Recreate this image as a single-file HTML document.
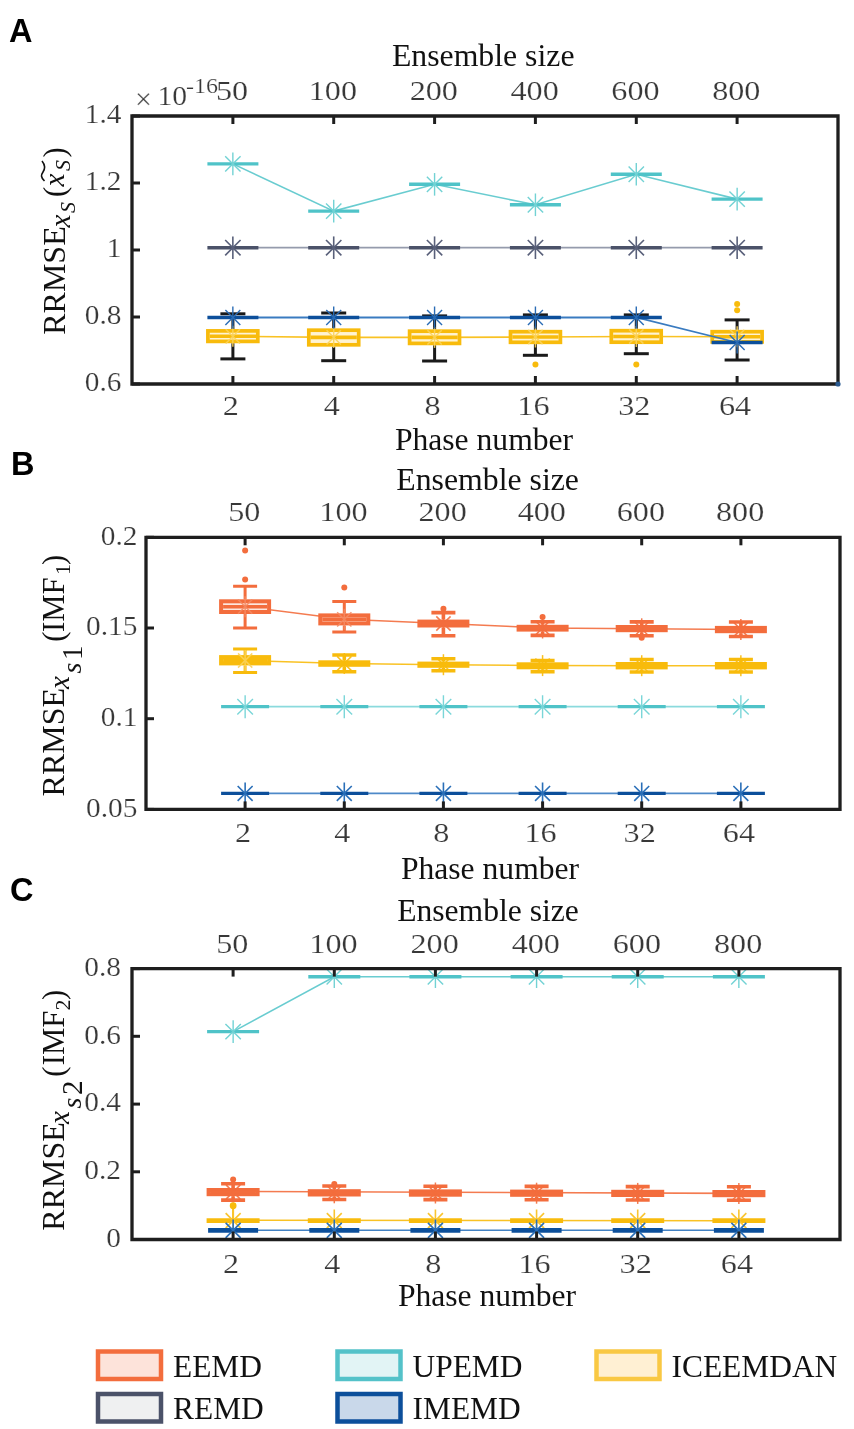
<!DOCTYPE html>
<html><head><meta charset="utf-8"><title>Figure</title>
<style>html,body{margin:0;padding:0;background:#fff;}svg{display:block;filter:blur(0.35px);}</style></head>
<body><svg width="854" height="1429" viewBox="0 0 854 1429">
<rect width="854" height="1429" fill="#fff"/>
<text transform="translate(9.0,41.5) scale(1.0,1)" text-anchor="start" font-family="Liberation Sans" font-size="32.5" font-weight="bold" fill="#000" >A</text>
<text transform="translate(483.2,66.3) scale(1.035,1)" text-anchor="middle" font-family="Liberation Serif" font-size="30.7" font-weight="normal" fill="#111" >Ensemble size</text>
<text transform="translate(484.0,449.5) scale(1.03,1)" text-anchor="middle" font-family="Liberation Serif" font-size="30.7" font-weight="normal" fill="#111" >Phase number</text>
<clipPath id="cA"><rect x="132" y="116" width="706" height="268"/></clipPath><g clip-path="url(#cA)">
<polyline points="232.9,163.9 333.7,211.1 434.6,184.3 535.4,204.8 636.3,174.3 737.1,199.1" fill="none" stroke="#4fc3c8" stroke-width="1.6" opacity="0.85"/>
<polyline points="232.9,247.7 333.7,247.7 434.6,247.7 535.4,247.7 636.3,247.7 737.1,247.7" fill="none" stroke="#8990a3" stroke-width="1.8" opacity="0.9"/>
<polyline points="232.9,336.3 333.7,337.4 434.6,337.4 535.4,337.0 636.3,336.5 737.1,336.8" fill="none" stroke="#f8bb0c" stroke-width="1.6" opacity="0.9"/>
<line x1="232.9" y1="329.0" x2="232.9" y2="313.8" stroke="#1a1a1a" stroke-width="3" />
<line x1="232.9" y1="343.2" x2="232.9" y2="358.9" stroke="#1a1a1a" stroke-width="3" />
<line x1="220.4" y1="313.8" x2="245.4" y2="313.8" stroke="#1a1a1a" stroke-width="3" />
<line x1="220.4" y1="358.9" x2="245.4" y2="358.9" stroke="#1a1a1a" stroke-width="3" />
<rect x="207.9" y="330.9" width="49.9" height="10.5" fill="#fff3d2" stroke="#f8bb0c" stroke-width="3.7"/>
<line x1="209.8" y1="336.3" x2="256.0" y2="336.3" stroke="#f8bb0c" stroke-width="3.6" />
<g stroke="#fbd35a" stroke-width="1.5" opacity="0.9"><line x1="232.85714285714286" y1="325.8" x2="232.85714285714286" y2="346.8"/><line x1="225.71714285714285" y1="329.16" x2="239.99714285714288" y2="343.44"/><line x1="225.71714285714285" y1="343.44" x2="239.99714285714288" y2="329.16"/></g>
<line x1="333.7" y1="328.4" x2="333.7" y2="313.0" stroke="#1a1a1a" stroke-width="3" />
<line x1="333.7" y1="346.7" x2="333.7" y2="360.7" stroke="#1a1a1a" stroke-width="3" />
<line x1="321.2" y1="313.0" x2="346.2" y2="313.0" stroke="#1a1a1a" stroke-width="3" />
<line x1="321.2" y1="360.7" x2="346.2" y2="360.7" stroke="#1a1a1a" stroke-width="3" />
<rect x="308.8" y="330.2" width="49.9" height="14.6" fill="#fff3d2" stroke="#f8bb0c" stroke-width="3.7"/>
<line x1="310.6" y1="337.4" x2="356.8" y2="337.4" stroke="#f8bb0c" stroke-width="3.6" />
<g stroke="#fbd35a" stroke-width="1.5" opacity="0.9"><line x1="333.7142857142857" y1="326.9" x2="333.7142857142857" y2="347.9"/><line x1="326.57428571428574" y1="330.26" x2="340.8542857142857" y2="344.53999999999996"/><line x1="326.57428571428574" y1="344.53999999999996" x2="340.8542857142857" y2="330.26"/></g>
<line x1="434.6" y1="329.4" x2="434.6" y2="315.9" stroke="#1a1a1a" stroke-width="3" />
<line x1="434.6" y1="345.3" x2="434.6" y2="361.0" stroke="#1a1a1a" stroke-width="3" />
<line x1="422.1" y1="315.9" x2="447.1" y2="315.9" stroke="#1a1a1a" stroke-width="3" />
<line x1="422.1" y1="361.0" x2="447.1" y2="361.0" stroke="#1a1a1a" stroke-width="3" />
<rect x="409.6" y="331.2" width="49.9" height="12.2" fill="#fff3d2" stroke="#f8bb0c" stroke-width="3.7"/>
<line x1="411.5" y1="337.4" x2="457.7" y2="337.4" stroke="#f8bb0c" stroke-width="3.6" />
<g stroke="#fbd35a" stroke-width="1.5" opacity="0.9"><line x1="434.57142857142856" y1="326.9" x2="434.57142857142856" y2="347.9"/><line x1="427.43142857142857" y1="330.26" x2="441.71142857142854" y2="344.53999999999996"/><line x1="427.43142857142857" y1="344.53999999999996" x2="441.71142857142854" y2="330.26"/></g>
<line x1="535.4" y1="329.8" x2="535.4" y2="314.9" stroke="#1a1a1a" stroke-width="3" />
<line x1="535.4" y1="344.1" x2="535.4" y2="355.3" stroke="#1a1a1a" stroke-width="3" />
<line x1="522.9" y1="314.9" x2="547.9" y2="314.9" stroke="#1a1a1a" stroke-width="3" />
<line x1="522.9" y1="355.3" x2="547.9" y2="355.3" stroke="#1a1a1a" stroke-width="3" />
<rect x="510.5" y="331.7" width="49.9" height="10.6" fill="#fff3d2" stroke="#f8bb0c" stroke-width="3.7"/>
<line x1="512.3" y1="337.0" x2="558.5" y2="337.0" stroke="#f8bb0c" stroke-width="3.6" />
<circle cx="535.4285714285714" cy="364.6" r="3" fill="#f8bb0c"/>
<g stroke="#fbd35a" stroke-width="1.5" opacity="0.9"><line x1="535.4285714285714" y1="326.5" x2="535.4285714285714" y2="347.5"/><line x1="528.2885714285715" y1="329.86" x2="542.5685714285714" y2="344.14"/><line x1="528.2885714285715" y1="344.14" x2="542.5685714285714" y2="329.86"/></g>
<line x1="636.3" y1="328.8" x2="636.3" y2="314.9" stroke="#1a1a1a" stroke-width="3" />
<line x1="636.3" y1="344.0" x2="636.3" y2="353.7" stroke="#1a1a1a" stroke-width="3" />
<line x1="623.8" y1="314.9" x2="648.8" y2="314.9" stroke="#1a1a1a" stroke-width="3" />
<line x1="623.8" y1="353.7" x2="648.8" y2="353.7" stroke="#1a1a1a" stroke-width="3" />
<rect x="611.3" y="330.7" width="49.9" height="11.5" fill="#fff3d2" stroke="#f8bb0c" stroke-width="3.7"/>
<line x1="613.2" y1="336.5" x2="659.4" y2="336.5" stroke="#f8bb0c" stroke-width="3.6" />
<circle cx="636.2857142857142" cy="364.6" r="3" fill="#f8bb0c"/>
<g stroke="#fbd35a" stroke-width="1.5" opacity="0.9"><line x1="636.2857142857142" y1="326.0" x2="636.2857142857142" y2="347.0"/><line x1="629.1457142857142" y1="329.36" x2="643.4257142857142" y2="343.64"/><line x1="629.1457142857142" y1="343.64" x2="643.4257142857142" y2="329.36"/></g>
<line x1="737.1" y1="329.8" x2="737.1" y2="319.9" stroke="#1a1a1a" stroke-width="3" />
<line x1="737.1" y1="343.7" x2="737.1" y2="360.0" stroke="#1a1a1a" stroke-width="3" />
<line x1="724.6" y1="319.9" x2="749.6" y2="319.9" stroke="#1a1a1a" stroke-width="3" />
<line x1="724.6" y1="360.0" x2="749.6" y2="360.0" stroke="#1a1a1a" stroke-width="3" />
<rect x="712.2" y="331.7" width="49.9" height="10.2" fill="#fff3d2" stroke="#f8bb0c" stroke-width="3.7"/>
<line x1="714.0" y1="336.8" x2="760.2" y2="336.8" stroke="#f8bb0c" stroke-width="3.6" />
<circle cx="737.1428571428571" cy="304.0" r="3" fill="#f8bb0c"/>
<circle cx="737.1428571428571" cy="310.3" r="3" fill="#f8bb0c"/>
<g stroke="#fbd35a" stroke-width="1.5" opacity="0.9"><line x1="737.1428571428571" y1="326.3" x2="737.1428571428571" y2="347.3"/><line x1="730.0028571428571" y1="329.66" x2="744.2828571428571" y2="343.94"/><line x1="730.0028571428571" y1="343.94" x2="744.2828571428571" y2="329.66"/></g>
<polyline points="232.9,317.5 333.7,317.5 434.6,317.5 535.4,317.5 636.3,317.5 737.1,342.5" fill="none" stroke="#2f74bd" stroke-width="1.8" opacity="0.95"/>
<line x1="207.4" y1="317.5" x2="258.4" y2="317.5" stroke="#0c4f9b" stroke-width="3.4" />
<g stroke="#2a6cb5" stroke-width="1.4" opacity="1.0"><line x1="232.85714285714286" y1="306.5025" x2="232.85714285714286" y2="328.5025"/><line x1="225.37714285714287" y1="310.0225" x2="240.33714285714285" y2="324.9825"/><line x1="225.37714285714287" y1="324.9825" x2="240.33714285714285" y2="310.0225"/></g>
<line x1="308.2" y1="317.5" x2="359.2" y2="317.5" stroke="#0c4f9b" stroke-width="3.4" />
<g stroke="#2a6cb5" stroke-width="1.4" opacity="1.0"><line x1="333.7142857142857" y1="306.5025" x2="333.7142857142857" y2="328.5025"/><line x1="326.2342857142857" y1="310.0225" x2="341.19428571428574" y2="324.9825"/><line x1="326.2342857142857" y1="324.9825" x2="341.19428571428574" y2="310.0225"/></g>
<line x1="409.1" y1="317.5" x2="460.1" y2="317.5" stroke="#0c4f9b" stroke-width="3.4" />
<g stroke="#2a6cb5" stroke-width="1.4" opacity="1.0"><line x1="434.57142857142856" y1="306.5025" x2="434.57142857142856" y2="328.5025"/><line x1="427.09142857142854" y1="310.0225" x2="442.0514285714286" y2="324.9825"/><line x1="427.09142857142854" y1="324.9825" x2="442.0514285714286" y2="310.0225"/></g>
<line x1="509.9" y1="317.5" x2="560.9" y2="317.5" stroke="#0c4f9b" stroke-width="3.4" />
<g stroke="#2a6cb5" stroke-width="1.4" opacity="1.0"><line x1="535.4285714285714" y1="306.5025" x2="535.4285714285714" y2="328.5025"/><line x1="527.9485714285714" y1="310.0225" x2="542.9085714285715" y2="324.9825"/><line x1="527.9485714285714" y1="324.9825" x2="542.9085714285715" y2="310.0225"/></g>
<line x1="610.8" y1="317.5" x2="661.8" y2="317.5" stroke="#0c4f9b" stroke-width="3.4" />
<g stroke="#2a6cb5" stroke-width="1.4" opacity="1.0"><line x1="636.2857142857142" y1="306.5025" x2="636.2857142857142" y2="328.5025"/><line x1="628.8057142857142" y1="310.0225" x2="643.7657142857142" y2="324.9825"/><line x1="628.8057142857142" y1="324.9825" x2="643.7657142857142" y2="310.0225"/></g>
<line x1="711.6" y1="342.5" x2="762.6" y2="342.5" stroke="#0c4f9b" stroke-width="3.4" />
<g stroke="#2a6cb5" stroke-width="1.4" opacity="1.0"><line x1="737.1428571428571" y1="331.46" x2="737.1428571428571" y2="353.46"/><line x1="729.6628571428571" y1="334.97999999999996" x2="744.6228571428571" y2="349.94"/><line x1="729.6628571428571" y1="349.94" x2="744.6228571428571" y2="334.97999999999996"/></g>
<line x1="207.4" y1="247.7" x2="258.4" y2="247.7" stroke="#4b5269" stroke-width="3.4" />
<g stroke="#59607a" stroke-width="1.6" opacity="1.0"><line x1="232.85714285714286" y1="236.422" x2="232.85714285714286" y2="259.022"/><line x1="225.17314285714286" y1="240.038" x2="240.54114285714286" y2="255.406"/><line x1="225.17314285714286" y1="255.406" x2="240.54114285714286" y2="240.038"/></g>
<line x1="308.2" y1="247.7" x2="359.2" y2="247.7" stroke="#4b5269" stroke-width="3.4" />
<g stroke="#59607a" stroke-width="1.6" opacity="1.0"><line x1="333.7142857142857" y1="236.422" x2="333.7142857142857" y2="259.022"/><line x1="326.0302857142857" y1="240.038" x2="341.39828571428575" y2="255.406"/><line x1="326.0302857142857" y1="255.406" x2="341.39828571428575" y2="240.038"/></g>
<line x1="409.1" y1="247.7" x2="460.1" y2="247.7" stroke="#4b5269" stroke-width="3.4" />
<g stroke="#59607a" stroke-width="1.6" opacity="1.0"><line x1="434.57142857142856" y1="236.422" x2="434.57142857142856" y2="259.022"/><line x1="426.88742857142853" y1="240.038" x2="442.2554285714286" y2="255.406"/><line x1="426.88742857142853" y1="255.406" x2="442.2554285714286" y2="240.038"/></g>
<line x1="509.9" y1="247.7" x2="560.9" y2="247.7" stroke="#4b5269" stroke-width="3.4" />
<g stroke="#59607a" stroke-width="1.6" opacity="1.0"><line x1="535.4285714285714" y1="236.422" x2="535.4285714285714" y2="259.022"/><line x1="527.7445714285715" y1="240.038" x2="543.1125714285714" y2="255.406"/><line x1="527.7445714285715" y1="255.406" x2="543.1125714285714" y2="240.038"/></g>
<line x1="610.8" y1="247.7" x2="661.8" y2="247.7" stroke="#4b5269" stroke-width="3.4" />
<g stroke="#59607a" stroke-width="1.6" opacity="1.0"><line x1="636.2857142857142" y1="236.422" x2="636.2857142857142" y2="259.022"/><line x1="628.6017142857143" y1="240.038" x2="643.9697142857142" y2="255.406"/><line x1="628.6017142857143" y1="255.406" x2="643.9697142857142" y2="240.038"/></g>
<line x1="711.6" y1="247.7" x2="762.6" y2="247.7" stroke="#4b5269" stroke-width="3.4" />
<g stroke="#59607a" stroke-width="1.6" opacity="1.0"><line x1="737.1428571428571" y1="236.422" x2="737.1428571428571" y2="259.022"/><line x1="729.4588571428571" y1="240.038" x2="744.8268571428571" y2="255.406"/><line x1="729.4588571428571" y1="255.406" x2="744.8268571428571" y2="240.038"/></g>
<line x1="207.4" y1="163.9" x2="258.4" y2="163.9" stroke="#4fc3c8" stroke-width="3.4" />
<g stroke="#72d2d4" stroke-width="1.4" opacity="1.0"><line x1="232.85714285714286" y1="152.60500000000002" x2="232.85714285714286" y2="175.20500000000004"/><line x1="225.17314285714286" y1="156.22100000000003" x2="240.54114285714286" y2="171.58900000000003"/><line x1="225.17314285714286" y1="171.58900000000003" x2="240.54114285714286" y2="156.22100000000003"/></g>
<line x1="308.2" y1="211.1" x2="359.2" y2="211.1" stroke="#4fc3c8" stroke-width="3.4" />
<g stroke="#72d2d4" stroke-width="1.4" opacity="1.0"><line x1="333.7142857142857" y1="199.83999999999995" x2="333.7142857142857" y2="222.43999999999997"/><line x1="326.0302857142857" y1="203.45599999999996" x2="341.39828571428575" y2="218.82399999999996"/><line x1="326.0302857142857" y1="218.82399999999996" x2="341.39828571428575" y2="203.45599999999996"/></g>
<line x1="409.1" y1="184.3" x2="460.1" y2="184.3" stroke="#4fc3c8" stroke-width="3.4" />
<g stroke="#72d2d4" stroke-width="1.4" opacity="1.0"><line x1="434.57142857142856" y1="173.04" x2="434.57142857142856" y2="195.64000000000001"/><line x1="426.88742857142853" y1="176.656" x2="442.2554285714286" y2="192.024"/><line x1="426.88742857142853" y1="192.024" x2="442.2554285714286" y2="176.656"/></g>
<line x1="509.9" y1="204.8" x2="560.9" y2="204.8" stroke="#4fc3c8" stroke-width="3.4" />
<g stroke="#72d2d4" stroke-width="1.4" opacity="1.0"><line x1="535.4285714285714" y1="193.47499999999997" x2="535.4285714285714" y2="216.075"/><line x1="527.7445714285715" y1="197.09099999999998" x2="543.1125714285714" y2="212.45899999999997"/><line x1="527.7445714285715" y1="212.45899999999997" x2="543.1125714285714" y2="197.09099999999998"/></g>
<line x1="610.8" y1="174.3" x2="661.8" y2="174.3" stroke="#4fc3c8" stroke-width="3.4" />
<g stroke="#72d2d4" stroke-width="1.4" opacity="1.0"><line x1="636.2857142857142" y1="162.98999999999998" x2="636.2857142857142" y2="185.59"/><line x1="628.6017142857143" y1="166.606" x2="643.9697142857142" y2="181.974"/><line x1="628.6017142857143" y1="181.974" x2="643.9697142857142" y2="166.606"/></g>
<line x1="711.6" y1="199.1" x2="762.6" y2="199.1" stroke="#4fc3c8" stroke-width="3.4" />
<g stroke="#72d2d4" stroke-width="1.4" opacity="1.0"><line x1="737.1428571428571" y1="187.78" x2="737.1428571428571" y2="210.38000000000002"/><line x1="729.4588571428571" y1="191.39600000000002" x2="744.8268571428571" y2="206.764"/><line x1="729.4588571428571" y1="206.764" x2="744.8268571428571" y2="191.39600000000002"/></g>
</g>
<line x1="232.9" y1="384.0" x2="232.9" y2="376.0" stroke="#1e1e1e" stroke-width="3" />
<line x1="232.9" y1="116.0" x2="232.9" y2="124.0" stroke="#1e1e1e" stroke-width="3" />
<line x1="333.7" y1="384.0" x2="333.7" y2="376.0" stroke="#1e1e1e" stroke-width="3" />
<line x1="333.7" y1="116.0" x2="333.7" y2="124.0" stroke="#1e1e1e" stroke-width="3" />
<line x1="434.6" y1="384.0" x2="434.6" y2="376.0" stroke="#1e1e1e" stroke-width="3" />
<line x1="434.6" y1="116.0" x2="434.6" y2="124.0" stroke="#1e1e1e" stroke-width="3" />
<line x1="535.4" y1="384.0" x2="535.4" y2="376.0" stroke="#1e1e1e" stroke-width="3" />
<line x1="535.4" y1="116.0" x2="535.4" y2="124.0" stroke="#1e1e1e" stroke-width="3" />
<line x1="636.3" y1="384.0" x2="636.3" y2="376.0" stroke="#1e1e1e" stroke-width="3" />
<line x1="636.3" y1="116.0" x2="636.3" y2="124.0" stroke="#1e1e1e" stroke-width="3" />
<line x1="737.1" y1="384.0" x2="737.1" y2="376.0" stroke="#1e1e1e" stroke-width="3" />
<line x1="737.1" y1="116.0" x2="737.1" y2="124.0" stroke="#1e1e1e" stroke-width="3" />
<line x1="132.0" y1="116.0" x2="140.0" y2="116.0" stroke="#1e1e1e" stroke-width="3" />
<line x1="132.0" y1="183.0" x2="140.0" y2="183.0" stroke="#1e1e1e" stroke-width="3" />
<line x1="132.0" y1="250.0" x2="140.0" y2="250.0" stroke="#1e1e1e" stroke-width="3" />
<line x1="132.0" y1="317.0" x2="140.0" y2="317.0" stroke="#1e1e1e" stroke-width="3" />
<line x1="132.0" y1="384.0" x2="140.0" y2="384.0" stroke="#1e1e1e" stroke-width="3" />
<path d="M132,116 H838 V384 H132 Z" fill="none" stroke="#1e1e1e" stroke-width="3.3" stroke-linejoin="miter"/>
<text transform="translate(232.1,100.0) scale(1.15,1)" text-anchor="middle" font-family="Liberation Serif" font-size="28" font-weight="normal" fill="#383838" stroke="#fff" stroke-width="0.2">50</text>
<text transform="translate(332.9,100.0) scale(1.15,1)" text-anchor="middle" font-family="Liberation Serif" font-size="28" font-weight="normal" fill="#383838" stroke="#fff" stroke-width="0.2">100</text>
<text transform="translate(433.8,100.0) scale(1.15,1)" text-anchor="middle" font-family="Liberation Serif" font-size="28" font-weight="normal" fill="#383838" stroke="#fff" stroke-width="0.2">200</text>
<text transform="translate(534.6,100.0) scale(1.15,1)" text-anchor="middle" font-family="Liberation Serif" font-size="28" font-weight="normal" fill="#383838" stroke="#fff" stroke-width="0.2">400</text>
<text transform="translate(635.5,100.0) scale(1.15,1)" text-anchor="middle" font-family="Liberation Serif" font-size="28" font-weight="normal" fill="#383838" stroke="#fff" stroke-width="0.2">600</text>
<text transform="translate(736.3,100.0) scale(1.15,1)" text-anchor="middle" font-family="Liberation Serif" font-size="28" font-weight="normal" fill="#383838" stroke="#fff" stroke-width="0.2">800</text>
<text transform="translate(230.9,415.0) scale(1.15,1)" text-anchor="middle" font-family="Liberation Serif" font-size="28" font-weight="normal" fill="#383838" stroke="#fff" stroke-width="0.2">2</text>
<text transform="translate(331.7,415.0) scale(1.15,1)" text-anchor="middle" font-family="Liberation Serif" font-size="28" font-weight="normal" fill="#383838" stroke="#fff" stroke-width="0.2">4</text>
<text transform="translate(432.6,415.0) scale(1.15,1)" text-anchor="middle" font-family="Liberation Serif" font-size="28" font-weight="normal" fill="#383838" stroke="#fff" stroke-width="0.2">8</text>
<text transform="translate(533.4,415.0) scale(1.15,1)" text-anchor="middle" font-family="Liberation Serif" font-size="28" font-weight="normal" fill="#383838" stroke="#fff" stroke-width="0.2">16</text>
<text transform="translate(634.3,415.0) scale(1.15,1)" text-anchor="middle" font-family="Liberation Serif" font-size="28" font-weight="normal" fill="#383838" stroke="#fff" stroke-width="0.2">32</text>
<text transform="translate(735.1,415.0) scale(1.15,1)" text-anchor="middle" font-family="Liberation Serif" font-size="28" font-weight="normal" fill="#383838" stroke="#fff" stroke-width="0.2">64</text>
<text transform="translate(121.5,123.3) scale(1.05,1)" text-anchor="end" font-family="Liberation Serif" font-size="28" font-weight="normal" fill="#383838" stroke="#fff" stroke-width="0.2">1.4</text>
<text transform="translate(121.5,190.3) scale(1.05,1)" text-anchor="end" font-family="Liberation Serif" font-size="28" font-weight="normal" fill="#383838" stroke="#fff" stroke-width="0.2">1.2</text>
<text transform="translate(121.5,257.3) scale(1.05,1)" text-anchor="end" font-family="Liberation Serif" font-size="28" font-weight="normal" fill="#383838" stroke="#fff" stroke-width="0.2">1</text>
<text transform="translate(121.5,324.3) scale(1.05,1)" text-anchor="end" font-family="Liberation Serif" font-size="28" font-weight="normal" fill="#383838" stroke="#fff" stroke-width="0.2">0.8</text>
<text transform="translate(121.5,391.3) scale(1.05,1)" text-anchor="end" font-family="Liberation Serif" font-size="28" font-weight="normal" fill="#383838" stroke="#fff" stroke-width="0.2">0.6</text>
<text transform="translate(135.0,108.5) scale(1.0,1)" text-anchor="start" font-family="Liberation Serif" font-size="30" font-weight="normal" fill="#383838" stroke="#fff" stroke-width="0.2">×</text>
<text transform="translate(157.5,105.0) scale(1.1,1)" text-anchor="start" font-family="Liberation Serif" font-size="27" font-weight="normal" fill="#383838" stroke="#fff" stroke-width="0.2">10</text>
<text transform="translate(186.0,93.0) scale(1.2,1)" text-anchor="start" font-family="Liberation Serif" font-size="20" font-weight="normal" fill="#383838" stroke="#fff" stroke-width="0.2">-16</text>
<circle cx="838" cy="384" r="2.6" fill="#2a5a90"/>
<text transform="translate(11.0,474.8) scale(1.0,1)" text-anchor="start" font-family="Liberation Sans" font-size="32.5" font-weight="bold" fill="#000" >B</text>
<text transform="translate(487.6,490.2) scale(1.035,1)" text-anchor="middle" font-family="Liberation Serif" font-size="30.7" font-weight="normal" fill="#111" >Ensemble size</text>
<text transform="translate(490.0,879.0) scale(1.03,1)" text-anchor="middle" font-family="Liberation Serif" font-size="30.7" font-weight="normal" fill="#111" >Phase number</text>
<clipPath id="cB"><rect x="146" y="537.3" width="694" height="272.1"/></clipPath><g clip-path="url(#cB)">
<polyline points="245.1,706.7 740.9,706.7" fill="none" stroke="#7ed6d9" stroke-width="1.8" opacity="0.9"/>
<polyline points="245.1,793.4 740.9,793.4" fill="none" stroke="#3a7cc2" stroke-width="1.8" opacity="0.9"/>
<line x1="221.1" y1="706.7" x2="269.1" y2="706.7" stroke="#4fc3c8" stroke-width="3.2" />
<g stroke="#7ad6d8" stroke-width="1.4" opacity="1.0"><line x1="245.14285714285714" y1="695.2275999999999" x2="245.14285714285714" y2="718.2275999999999"/><line x1="237.32285714285715" y1="698.9075999999999" x2="252.96285714285713" y2="714.5476"/><line x1="237.32285714285715" y1="714.5476" x2="252.96285714285713" y2="698.9075999999999"/></g>
<line x1="221.1" y1="793.4" x2="269.1" y2="793.4" stroke="#0c4f9b" stroke-width="3.4" />
<g stroke="#2a6fb8" stroke-width="1.6" opacity="1.0"><line x1="245.14285714285714" y1="782.4368" x2="245.14285714285714" y2="804.4368"/><line x1="237.66285714285715" y1="785.9567999999999" x2="252.62285714285713" y2="800.9168"/><line x1="237.66285714285715" y1="800.9168" x2="252.62285714285713" y2="785.9567999999999"/></g>
<line x1="320.3" y1="706.7" x2="368.3" y2="706.7" stroke="#4fc3c8" stroke-width="3.2" />
<g stroke="#7ad6d8" stroke-width="1.4" opacity="1.0"><line x1="344.2857142857143" y1="695.2275999999999" x2="344.2857142857143" y2="718.2275999999999"/><line x1="336.4657142857143" y1="698.9075999999999" x2="352.10571428571427" y2="714.5476"/><line x1="336.4657142857143" y1="714.5476" x2="352.10571428571427" y2="698.9075999999999"/></g>
<line x1="320.3" y1="793.4" x2="368.3" y2="793.4" stroke="#0c4f9b" stroke-width="3.4" />
<g stroke="#2a6fb8" stroke-width="1.6" opacity="1.0"><line x1="344.2857142857143" y1="782.4368" x2="344.2857142857143" y2="804.4368"/><line x1="336.80571428571426" y1="785.9567999999999" x2="351.7657142857143" y2="800.9168"/><line x1="336.80571428571426" y1="800.9168" x2="351.7657142857143" y2="785.9567999999999"/></g>
<line x1="419.4" y1="706.7" x2="467.4" y2="706.7" stroke="#4fc3c8" stroke-width="3.2" />
<g stroke="#7ad6d8" stroke-width="1.4" opacity="1.0"><line x1="443.42857142857144" y1="695.2275999999999" x2="443.42857142857144" y2="718.2275999999999"/><line x1="435.60857142857145" y1="698.9075999999999" x2="451.24857142857144" y2="714.5476"/><line x1="435.60857142857145" y1="714.5476" x2="451.24857142857144" y2="698.9075999999999"/></g>
<line x1="419.4" y1="793.4" x2="467.4" y2="793.4" stroke="#0c4f9b" stroke-width="3.4" />
<g stroke="#2a6fb8" stroke-width="1.6" opacity="1.0"><line x1="443.42857142857144" y1="782.4368" x2="443.42857142857144" y2="804.4368"/><line x1="435.9485714285714" y1="785.9567999999999" x2="450.90857142857146" y2="800.9168"/><line x1="435.9485714285714" y1="800.9168" x2="450.90857142857146" y2="785.9567999999999"/></g>
<line x1="518.6" y1="706.7" x2="566.6" y2="706.7" stroke="#4fc3c8" stroke-width="3.2" />
<g stroke="#7ad6d8" stroke-width="1.4" opacity="1.0"><line x1="542.5714285714286" y1="695.2275999999999" x2="542.5714285714286" y2="718.2275999999999"/><line x1="534.7514285714285" y1="698.9075999999999" x2="550.3914285714286" y2="714.5476"/><line x1="534.7514285714285" y1="714.5476" x2="550.3914285714286" y2="698.9075999999999"/></g>
<line x1="518.6" y1="793.4" x2="566.6" y2="793.4" stroke="#0c4f9b" stroke-width="3.4" />
<g stroke="#2a6fb8" stroke-width="1.6" opacity="1.0"><line x1="542.5714285714286" y1="782.4368" x2="542.5714285714286" y2="804.4368"/><line x1="535.0914285714285" y1="785.9567999999999" x2="550.0514285714286" y2="800.9168"/><line x1="535.0914285714285" y1="800.9168" x2="550.0514285714286" y2="785.9567999999999"/></g>
<line x1="617.7" y1="706.7" x2="665.7" y2="706.7" stroke="#4fc3c8" stroke-width="3.2" />
<g stroke="#7ad6d8" stroke-width="1.4" opacity="1.0"><line x1="641.7142857142858" y1="695.2275999999999" x2="641.7142857142858" y2="718.2275999999999"/><line x1="633.8942857142857" y1="698.9075999999999" x2="649.5342857142858" y2="714.5476"/><line x1="633.8942857142857" y1="714.5476" x2="649.5342857142858" y2="698.9075999999999"/></g>
<line x1="617.7" y1="793.4" x2="665.7" y2="793.4" stroke="#0c4f9b" stroke-width="3.4" />
<g stroke="#2a6fb8" stroke-width="1.6" opacity="1.0"><line x1="641.7142857142858" y1="782.4368" x2="641.7142857142858" y2="804.4368"/><line x1="634.2342857142858" y1="785.9567999999999" x2="649.1942857142858" y2="800.9168"/><line x1="634.2342857142858" y1="800.9168" x2="649.1942857142858" y2="785.9567999999999"/></g>
<line x1="716.9" y1="706.7" x2="764.9" y2="706.7" stroke="#4fc3c8" stroke-width="3.2" />
<g stroke="#7ad6d8" stroke-width="1.4" opacity="1.0"><line x1="740.8571428571429" y1="695.2275999999999" x2="740.8571428571429" y2="718.2275999999999"/><line x1="733.0371428571428" y1="698.9075999999999" x2="748.6771428571429" y2="714.5476"/><line x1="733.0371428571428" y1="714.5476" x2="748.6771428571429" y2="698.9075999999999"/></g>
<line x1="716.9" y1="793.4" x2="764.9" y2="793.4" stroke="#0c4f9b" stroke-width="3.4" />
<g stroke="#2a6fb8" stroke-width="1.6" opacity="1.0"><line x1="740.8571428571429" y1="782.4368" x2="740.8571428571429" y2="804.4368"/><line x1="733.3771428571429" y1="785.9567999999999" x2="748.3371428571429" y2="800.9168"/><line x1="733.3771428571429" y1="800.9168" x2="748.3371428571429" y2="785.9567999999999"/></g>
<polyline points="245.1,606.7 344.3,619.3 443.4,623.5 542.6,628.0 641.7,628.8 740.9,629.5" fill="none" stroke="#f36d3d" stroke-width="1.5" opacity="0.9"/>
<line x1="245.1" y1="599.3" x2="245.1" y2="586.3" stroke="#f36d3d" stroke-width="3" />
<line x1="245.1" y1="614.0" x2="245.1" y2="628.0" stroke="#f36d3d" stroke-width="3" />
<line x1="233.1" y1="586.3" x2="257.1" y2="586.3" stroke="#f36d3d" stroke-width="3" />
<line x1="233.1" y1="628.0" x2="257.1" y2="628.0" stroke="#f36d3d" stroke-width="3" />
<rect x="221.1" y="601.3" width="48.0" height="10.7" fill="#fde6dd" stroke="#f36d3d" stroke-width="4"/>
<line x1="223.1" y1="606.7" x2="267.1" y2="606.7" stroke="#f36d3d" stroke-width="3.6" />
<circle cx="245.14285714285714" cy="550.4" r="3" fill="#f36d3d"/>
<circle cx="245.14285714285714" cy="579.5" r="3" fill="#f36d3d"/>
<g stroke="#f58a62" stroke-width="1.5" opacity="0.9"><line x1="245.14285714285714" y1="596.2" x2="245.14285714285714" y2="617.2"/><line x1="238.00285714285712" y1="599.5600000000001" x2="252.28285714285715" y2="613.84"/><line x1="238.00285714285712" y1="613.84" x2="252.28285714285715" y2="599.5600000000001"/></g>
<line x1="344.3" y1="613.4" x2="344.3" y2="601.4" stroke="#f36d3d" stroke-width="3" />
<line x1="344.3" y1="625.4" x2="344.3" y2="632.1" stroke="#f36d3d" stroke-width="3" />
<line x1="332.3" y1="601.4" x2="356.3" y2="601.4" stroke="#f36d3d" stroke-width="3" />
<line x1="332.3" y1="632.1" x2="356.3" y2="632.1" stroke="#f36d3d" stroke-width="3" />
<rect x="320.3" y="615.4" width="48.0" height="8.0" fill="#fde6dd" stroke="#f36d3d" stroke-width="4"/>
<line x1="322.3" y1="619.3" x2="366.3" y2="619.3" stroke="#f36d3d" stroke-width="3.6" />
<circle cx="344.2857142857143" cy="587.5" r="3" fill="#f36d3d"/>
<g stroke="#f58a62" stroke-width="1.5" opacity="0.9"><line x1="344.2857142857143" y1="608.8" x2="344.2857142857143" y2="629.8"/><line x1="337.1457142857143" y1="612.16" x2="351.42571428571426" y2="626.4399999999999"/><line x1="337.1457142857143" y1="626.4399999999999" x2="351.42571428571426" y2="612.16"/></g>
<line x1="443.4" y1="619.6" x2="443.4" y2="612.6" stroke="#f36d3d" stroke-width="3.6" />
<line x1="443.4" y1="627.5" x2="443.4" y2="635.7" stroke="#f36d3d" stroke-width="3.6" />
<line x1="431.4" y1="612.6" x2="455.4" y2="612.6" stroke="#f36d3d" stroke-width="3.6" />
<line x1="431.4" y1="635.7" x2="455.4" y2="635.7" stroke="#f36d3d" stroke-width="3.6" />
<rect x="419.4" y="621.6" width="48.0" height="3.9" fill="#fde6dd" stroke="#f36d3d" stroke-width="4"/>
<line x1="421.4" y1="623.5" x2="465.4" y2="623.5" stroke="#f36d3d" stroke-width="3.6" />
<circle cx="443.42857142857144" cy="608.7" r="3" fill="#f36d3d"/>
<g stroke="#f36d3d" stroke-width="1.5" opacity="0.9"><line x1="443.42857142857144" y1="613.0" x2="443.42857142857144" y2="634.0"/><line x1="436.28857142857146" y1="616.36" x2="450.56857142857143" y2="630.64"/><line x1="436.28857142857146" y1="630.64" x2="450.56857142857143" y2="616.36"/></g>
<line x1="542.6" y1="624.8" x2="542.6" y2="621.7" stroke="#f36d3d" stroke-width="3.6" />
<line x1="542.6" y1="631.6" x2="542.6" y2="635.4" stroke="#f36d3d" stroke-width="3.6" />
<line x1="530.6" y1="621.7" x2="554.6" y2="621.7" stroke="#f36d3d" stroke-width="3.6" />
<line x1="530.6" y1="635.4" x2="554.6" y2="635.4" stroke="#f36d3d" stroke-width="3.6" />
<rect x="518.6" y="626.8" width="48.0" height="2.8" fill="#fde6dd" stroke="#f36d3d" stroke-width="4"/>
<line x1="520.6" y1="628.0" x2="564.6" y2="628.0" stroke="#f36d3d" stroke-width="3.6" />
<circle cx="542.5714285714286" cy="616.9" r="3" fill="#f36d3d"/>
<g stroke="#f36d3d" stroke-width="1.5" opacity="0.9"><line x1="542.5714285714286" y1="617.5" x2="542.5714285714286" y2="638.5"/><line x1="535.4314285714286" y1="620.86" x2="549.7114285714285" y2="635.14"/><line x1="535.4314285714286" y1="635.14" x2="549.7114285714285" y2="620.86"/></g>
<line x1="641.7" y1="625.0" x2="641.7" y2="621.9" stroke="#f36d3d" stroke-width="3.6" />
<line x1="641.7" y1="632.2" x2="641.7" y2="635.8" stroke="#f36d3d" stroke-width="3.6" />
<line x1="629.7" y1="621.9" x2="653.7" y2="621.9" stroke="#f36d3d" stroke-width="3.6" />
<line x1="629.7" y1="635.8" x2="653.7" y2="635.8" stroke="#f36d3d" stroke-width="3.6" />
<rect x="617.7" y="627.0" width="48.0" height="3.2" fill="#fde6dd" stroke="#f36d3d" stroke-width="4"/>
<line x1="619.7" y1="628.8" x2="663.7" y2="628.8" stroke="#f36d3d" stroke-width="3.6" />
<circle cx="641.7142857142858" cy="637.8" r="3" fill="#f36d3d"/>
<g stroke="#f36d3d" stroke-width="1.5" opacity="0.9"><line x1="641.7142857142858" y1="618.3" x2="641.7142857142858" y2="639.3"/><line x1="634.5742857142858" y1="621.66" x2="648.8542857142858" y2="635.9399999999999"/><line x1="634.5742857142858" y1="635.9399999999999" x2="648.8542857142858" y2="621.66"/></g>
<line x1="740.9" y1="625.9" x2="740.9" y2="622.0" stroke="#f36d3d" stroke-width="3.6" />
<line x1="740.9" y1="633.2" x2="740.9" y2="636.5" stroke="#f36d3d" stroke-width="3.6" />
<line x1="728.9" y1="622.0" x2="752.9" y2="622.0" stroke="#f36d3d" stroke-width="3.6" />
<line x1="728.9" y1="636.5" x2="752.9" y2="636.5" stroke="#f36d3d" stroke-width="3.6" />
<rect x="716.9" y="627.9" width="48.0" height="3.3" fill="#fde6dd" stroke="#f36d3d" stroke-width="4"/>
<line x1="718.9" y1="629.5" x2="762.9" y2="629.5" stroke="#f36d3d" stroke-width="3.6" />
<g stroke="#f36d3d" stroke-width="1.5" opacity="0.9"><line x1="740.8571428571429" y1="619.0" x2="740.8571428571429" y2="640.0"/><line x1="733.7171428571429" y1="622.36" x2="747.9971428571429" y2="636.64"/><line x1="733.7171428571429" y1="636.64" x2="747.9971428571429" y2="622.36"/></g>
<polyline points="245.1,660.5 344.3,663.5 443.4,664.7 542.6,665.6 641.7,665.7 740.9,665.7" fill="none" stroke="#f8bb0c" stroke-width="1.5" opacity="0.9"/>
<line x1="245.1" y1="655.1" x2="245.1" y2="649.0" stroke="#f8bb0c" stroke-width="3" />
<line x1="245.1" y1="665.4" x2="245.1" y2="672.5" stroke="#f8bb0c" stroke-width="3" />
<line x1="233.1" y1="649.0" x2="257.1" y2="649.0" stroke="#f8bb0c" stroke-width="3" />
<line x1="233.1" y1="672.5" x2="257.1" y2="672.5" stroke="#f8bb0c" stroke-width="3" />
<rect x="221.1" y="657.1" width="48.0" height="6.3" fill="#fff3d2" stroke="#f8bb0c" stroke-width="4"/>
<line x1="223.1" y1="660.5" x2="267.1" y2="660.5" stroke="#f8bb0c" stroke-width="3.6" />
<g stroke="#fbd35a" stroke-width="1.5" opacity="0.9"><line x1="245.14285714285714" y1="650.0" x2="245.14285714285714" y2="671.0"/><line x1="238.00285714285712" y1="653.36" x2="252.28285714285715" y2="667.64"/><line x1="238.00285714285712" y1="667.64" x2="252.28285714285715" y2="653.36"/></g>
<line x1="344.3" y1="660.3" x2="344.3" y2="655.0" stroke="#f8bb0c" stroke-width="3.6" />
<line x1="344.3" y1="666.8" x2="344.3" y2="671.8" stroke="#f8bb0c" stroke-width="3.6" />
<line x1="332.3" y1="655.0" x2="356.3" y2="655.0" stroke="#f8bb0c" stroke-width="3.6" />
<line x1="332.3" y1="671.8" x2="356.3" y2="671.8" stroke="#f8bb0c" stroke-width="3.6" />
<rect x="320.3" y="662.3" width="48.0" height="2.5" fill="#fff3d2" stroke="#f8bb0c" stroke-width="4"/>
<line x1="322.3" y1="663.5" x2="366.3" y2="663.5" stroke="#f8bb0c" stroke-width="3.6" />
<g stroke="#f8bb0c" stroke-width="1.5" opacity="0.9"><line x1="344.2857142857143" y1="653.0" x2="344.2857142857143" y2="674.0"/><line x1="337.1457142857143" y1="656.36" x2="351.42571428571426" y2="670.64"/><line x1="337.1457142857143" y1="670.64" x2="351.42571428571426" y2="656.36"/></g>
<line x1="443.4" y1="661.6" x2="443.4" y2="658.8" stroke="#f8bb0c" stroke-width="3.6" />
<line x1="443.4" y1="667.8" x2="443.4" y2="670.8" stroke="#f8bb0c" stroke-width="3.6" />
<line x1="431.4" y1="658.8" x2="455.4" y2="658.8" stroke="#f8bb0c" stroke-width="3.6" />
<line x1="431.4" y1="670.8" x2="455.4" y2="670.8" stroke="#f8bb0c" stroke-width="3.6" />
<rect x="419.4" y="663.6" width="48.0" height="2.2" fill="#fff3d2" stroke="#f8bb0c" stroke-width="4"/>
<line x1="421.4" y1="664.7" x2="465.4" y2="664.7" stroke="#f8bb0c" stroke-width="3.6" />
<g stroke="#f8bb0c" stroke-width="1.5" opacity="0.9"><line x1="443.42857142857144" y1="654.2" x2="443.42857142857144" y2="675.2"/><line x1="436.28857142857146" y1="657.5600000000001" x2="450.56857142857143" y2="671.84"/><line x1="436.28857142857146" y1="671.84" x2="450.56857142857143" y2="657.5600000000001"/></g>
<line x1="542.6" y1="662.3" x2="542.6" y2="660.5" stroke="#f8bb0c" stroke-width="3.6" />
<line x1="542.6" y1="669.3" x2="542.6" y2="671.7" stroke="#f8bb0c" stroke-width="3.6" />
<line x1="530.6" y1="660.5" x2="554.6" y2="660.5" stroke="#f8bb0c" stroke-width="3.6" />
<line x1="530.6" y1="671.7" x2="554.6" y2="671.7" stroke="#f8bb0c" stroke-width="3.6" />
<rect x="518.6" y="664.3" width="48.0" height="3.0" fill="#fff3d2" stroke="#f8bb0c" stroke-width="4"/>
<line x1="520.6" y1="665.6" x2="564.6" y2="665.6" stroke="#f8bb0c" stroke-width="3.6" />
<g stroke="#f8bb0c" stroke-width="1.5" opacity="0.9"><line x1="542.5714285714286" y1="655.1" x2="542.5714285714286" y2="676.1"/><line x1="535.4314285714286" y1="658.46" x2="549.7114285714285" y2="672.74"/><line x1="535.4314285714286" y1="672.74" x2="549.7114285714285" y2="658.46"/></g>
<line x1="641.7" y1="662.0" x2="641.7" y2="659.5" stroke="#f8bb0c" stroke-width="3.6" />
<line x1="641.7" y1="669.4" x2="641.7" y2="672.0" stroke="#f8bb0c" stroke-width="3.6" />
<line x1="629.7" y1="659.5" x2="653.7" y2="659.5" stroke="#f8bb0c" stroke-width="3.6" />
<line x1="629.7" y1="672.0" x2="653.7" y2="672.0" stroke="#f8bb0c" stroke-width="3.6" />
<rect x="617.7" y="664.0" width="48.0" height="3.4" fill="#fff3d2" stroke="#f8bb0c" stroke-width="4"/>
<line x1="619.7" y1="665.7" x2="663.7" y2="665.7" stroke="#f8bb0c" stroke-width="3.6" />
<g stroke="#f8bb0c" stroke-width="1.5" opacity="0.9"><line x1="641.7142857142858" y1="655.2" x2="641.7142857142858" y2="676.2"/><line x1="634.5742857142858" y1="658.5600000000001" x2="648.8542857142858" y2="672.84"/><line x1="634.5742857142858" y1="672.84" x2="648.8542857142858" y2="658.5600000000001"/></g>
<line x1="740.9" y1="662.0" x2="740.9" y2="659.5" stroke="#f8bb0c" stroke-width="3.6" />
<line x1="740.9" y1="669.4" x2="740.9" y2="672.0" stroke="#f8bb0c" stroke-width="3.6" />
<line x1="728.9" y1="659.5" x2="752.9" y2="659.5" stroke="#f8bb0c" stroke-width="3.6" />
<line x1="728.9" y1="672.0" x2="752.9" y2="672.0" stroke="#f8bb0c" stroke-width="3.6" />
<rect x="716.9" y="664.0" width="48.0" height="3.4" fill="#fff3d2" stroke="#f8bb0c" stroke-width="4"/>
<line x1="718.9" y1="665.7" x2="762.9" y2="665.7" stroke="#f8bb0c" stroke-width="3.6" />
<g stroke="#f8bb0c" stroke-width="1.5" opacity="0.9"><line x1="740.8571428571429" y1="655.2" x2="740.8571428571429" y2="676.2"/><line x1="733.7171428571429" y1="658.5600000000001" x2="747.9971428571429" y2="672.84"/><line x1="733.7171428571429" y1="672.84" x2="747.9971428571429" y2="658.5600000000001"/></g>
</g>
<line x1="245.1" y1="809.4" x2="245.1" y2="801.4" stroke="#1e1e1e" stroke-width="3" />
<line x1="245.1" y1="537.3" x2="245.1" y2="545.3" stroke="#1e1e1e" stroke-width="3" />
<line x1="344.3" y1="809.4" x2="344.3" y2="801.4" stroke="#1e1e1e" stroke-width="3" />
<line x1="344.3" y1="537.3" x2="344.3" y2="545.3" stroke="#1e1e1e" stroke-width="3" />
<line x1="443.4" y1="809.4" x2="443.4" y2="801.4" stroke="#1e1e1e" stroke-width="3" />
<line x1="443.4" y1="537.3" x2="443.4" y2="545.3" stroke="#1e1e1e" stroke-width="3" />
<line x1="542.6" y1="809.4" x2="542.6" y2="801.4" stroke="#1e1e1e" stroke-width="3" />
<line x1="542.6" y1="537.3" x2="542.6" y2="545.3" stroke="#1e1e1e" stroke-width="3" />
<line x1="641.7" y1="809.4" x2="641.7" y2="801.4" stroke="#1e1e1e" stroke-width="3" />
<line x1="641.7" y1="537.3" x2="641.7" y2="545.3" stroke="#1e1e1e" stroke-width="3" />
<line x1="740.9" y1="809.4" x2="740.9" y2="801.4" stroke="#1e1e1e" stroke-width="3" />
<line x1="740.9" y1="537.3" x2="740.9" y2="545.3" stroke="#1e1e1e" stroke-width="3" />
<line x1="146.0" y1="537.3" x2="154.0" y2="537.3" stroke="#1e1e1e" stroke-width="3" />
<line x1="146.0" y1="628.0" x2="154.0" y2="628.0" stroke="#1e1e1e" stroke-width="3" />
<line x1="146.0" y1="718.7" x2="154.0" y2="718.7" stroke="#1e1e1e" stroke-width="3" />
<line x1="146.0" y1="809.4" x2="154.0" y2="809.4" stroke="#1e1e1e" stroke-width="3" />
<path d="M146,537.3 H840 V809.4 H146 Z" fill="none" stroke="#1e1e1e" stroke-width="3.3" stroke-linejoin="miter"/>
<text transform="translate(244.3,521.0) scale(1.15,1)" text-anchor="middle" font-family="Liberation Serif" font-size="28" font-weight="normal" fill="#383838" stroke="#fff" stroke-width="0.2">50</text>
<text transform="translate(343.5,521.0) scale(1.15,1)" text-anchor="middle" font-family="Liberation Serif" font-size="28" font-weight="normal" fill="#383838" stroke="#fff" stroke-width="0.2">100</text>
<text transform="translate(442.6,521.0) scale(1.15,1)" text-anchor="middle" font-family="Liberation Serif" font-size="28" font-weight="normal" fill="#383838" stroke="#fff" stroke-width="0.2">200</text>
<text transform="translate(541.8,521.0) scale(1.15,1)" text-anchor="middle" font-family="Liberation Serif" font-size="28" font-weight="normal" fill="#383838" stroke="#fff" stroke-width="0.2">400</text>
<text transform="translate(640.9,521.0) scale(1.15,1)" text-anchor="middle" font-family="Liberation Serif" font-size="28" font-weight="normal" fill="#383838" stroke="#fff" stroke-width="0.2">600</text>
<text transform="translate(740.1,521.0) scale(1.15,1)" text-anchor="middle" font-family="Liberation Serif" font-size="28" font-weight="normal" fill="#383838" stroke="#fff" stroke-width="0.2">800</text>
<text transform="translate(243.1,842.0) scale(1.15,1)" text-anchor="middle" font-family="Liberation Serif" font-size="28" font-weight="normal" fill="#383838" stroke="#fff" stroke-width="0.2">2</text>
<text transform="translate(342.3,842.0) scale(1.15,1)" text-anchor="middle" font-family="Liberation Serif" font-size="28" font-weight="normal" fill="#383838" stroke="#fff" stroke-width="0.2">4</text>
<text transform="translate(441.4,842.0) scale(1.15,1)" text-anchor="middle" font-family="Liberation Serif" font-size="28" font-weight="normal" fill="#383838" stroke="#fff" stroke-width="0.2">8</text>
<text transform="translate(540.6,842.0) scale(1.15,1)" text-anchor="middle" font-family="Liberation Serif" font-size="28" font-weight="normal" fill="#383838" stroke="#fff" stroke-width="0.2">16</text>
<text transform="translate(639.7,842.0) scale(1.15,1)" text-anchor="middle" font-family="Liberation Serif" font-size="28" font-weight="normal" fill="#383838" stroke="#fff" stroke-width="0.2">32</text>
<text transform="translate(738.9,842.0) scale(1.15,1)" text-anchor="middle" font-family="Liberation Serif" font-size="28" font-weight="normal" fill="#383838" stroke="#fff" stroke-width="0.2">64</text>
<text transform="translate(137.5,544.6) scale(1.05,1)" text-anchor="end" font-family="Liberation Serif" font-size="28" font-weight="normal" fill="#383838" stroke="#fff" stroke-width="0.2">0.2</text>
<text transform="translate(137.5,635.3) scale(1.05,1)" text-anchor="end" font-family="Liberation Serif" font-size="28" font-weight="normal" fill="#383838" stroke="#fff" stroke-width="0.2">0.15</text>
<text transform="translate(137.5,726.0) scale(1.05,1)" text-anchor="end" font-family="Liberation Serif" font-size="28" font-weight="normal" fill="#383838" stroke="#fff" stroke-width="0.2">0.1</text>
<text transform="translate(137.5,816.7) scale(1.05,1)" text-anchor="end" font-family="Liberation Serif" font-size="28" font-weight="normal" fill="#383838" stroke="#fff" stroke-width="0.2">0.05</text>
<text transform="translate(10.0,900.5) scale(1.0,1)" text-anchor="start" font-family="Liberation Sans" font-size="32.5" font-weight="bold" fill="#000" >C</text>
<text transform="translate(488.0,920.7) scale(1.03,1)" text-anchor="middle" font-family="Liberation Serif" font-size="30.7" font-weight="normal" fill="#111" >Ensemble size</text>
<text transform="translate(487.0,1305.7) scale(1.03,1)" text-anchor="middle" font-family="Liberation Serif" font-size="30.7" font-weight="normal" fill="#111" >Phase number</text>
<clipPath id="cC"><rect x="132" y="968.6" width="708" height="270.9"/></clipPath><g clip-path="url(#cC)">
<polyline points="233.1,1031.6 334.3,976.7 435.4,976.7 536.6,976.7 637.7,976.7 738.9,976.7" fill="none" stroke="#4fc3c8" stroke-width="1.6" opacity="0.85"/>
<polyline points="233.1,1191.5 738.9,1193.4" fill="none" stroke="#f36d3d" stroke-width="1.6" opacity="0.9"/>
<polyline points="233.1,1220.3 738.9,1220.7" fill="none" stroke="#f8bb0c" stroke-width="1.6" opacity="0.9"/>
<polyline points="233.1,1230.2 738.9,1230.3" fill="none" stroke="#2f74bd" stroke-width="1.6" opacity="0.9"/>
<line x1="207.1" y1="1031.6" x2="259.1" y2="1031.6" stroke="#4fc3c8" stroke-width="3.4" />
<g stroke="#72d2d4" stroke-width="1.4" opacity="1.0"><line x1="233.14285714285714" y1="1020.2996" x2="233.14285714285714" y2="1042.8996"/><line x1="225.45885714285714" y1="1023.9156" x2="240.82685714285714" y2="1039.2836"/><line x1="225.45885714285714" y1="1039.2836" x2="240.82685714285714" y2="1023.9156"/></g>
<line x1="308.3" y1="976.7" x2="360.3" y2="976.7" stroke="#4fc3c8" stroke-width="3.4" />
<g stroke="#72d2d4" stroke-width="1.4" opacity="1.0"><line x1="334.2857142857143" y1="965.4464" x2="334.2857142857143" y2="988.0464"/><line x1="326.60171428571425" y1="969.0624" x2="341.9697142857143" y2="984.4304"/><line x1="326.60171428571425" y1="984.4304" x2="341.9697142857143" y2="969.0624"/></g>
<line x1="409.4" y1="976.7" x2="461.4" y2="976.7" stroke="#4fc3c8" stroke-width="3.4" />
<g stroke="#72d2d4" stroke-width="1.4" opacity="1.0"><line x1="435.42857142857144" y1="965.4464" x2="435.42857142857144" y2="988.0464"/><line x1="427.7445714285714" y1="969.0624" x2="443.11257142857147" y2="984.4304"/><line x1="427.7445714285714" y1="984.4304" x2="443.11257142857147" y2="969.0624"/></g>
<line x1="510.6" y1="976.7" x2="562.6" y2="976.7" stroke="#4fc3c8" stroke-width="3.4" />
<g stroke="#72d2d4" stroke-width="1.4" opacity="1.0"><line x1="536.5714285714286" y1="965.4464" x2="536.5714285714286" y2="988.0464"/><line x1="528.8874285714286" y1="969.0624" x2="544.2554285714285" y2="984.4304"/><line x1="528.8874285714286" y1="984.4304" x2="544.2554285714285" y2="969.0624"/></g>
<line x1="611.7" y1="976.7" x2="663.7" y2="976.7" stroke="#4fc3c8" stroke-width="3.4" />
<g stroke="#72d2d4" stroke-width="1.4" opacity="1.0"><line x1="637.7142857142858" y1="965.4464" x2="637.7142857142858" y2="988.0464"/><line x1="630.0302857142858" y1="969.0624" x2="645.3982857142857" y2="984.4304"/><line x1="630.0302857142858" y1="984.4304" x2="645.3982857142857" y2="969.0624"/></g>
<line x1="712.9" y1="976.7" x2="764.9" y2="976.7" stroke="#4fc3c8" stroke-width="3.4" />
<g stroke="#72d2d4" stroke-width="1.4" opacity="1.0"><line x1="738.8571428571429" y1="965.4464" x2="738.8571428571429" y2="988.0464"/><line x1="731.1731428571429" y1="969.0624" x2="746.5411428571429" y2="984.4304"/><line x1="731.1731428571429" y1="984.4304" x2="746.5411428571429" y2="969.0624"/></g>
<line x1="233.1" y1="1188.0" x2="233.1" y2="1183.7" stroke="#f36d3d" stroke-width="3.6" />
<line x1="233.1" y1="1196.2" x2="233.1" y2="1200.1" stroke="#f36d3d" stroke-width="3.6" />
<line x1="221.1" y1="1183.7" x2="245.1" y2="1183.7" stroke="#f36d3d" stroke-width="3.6" />
<line x1="221.1" y1="1200.1" x2="245.1" y2="1200.1" stroke="#f36d3d" stroke-width="3.6" />
<rect x="208.6" y="1190.0" width="49.0" height="4.2" fill="#fde6dd" stroke="#f36d3d" stroke-width="4"/>
<line x1="210.6" y1="1192.0" x2="255.6" y2="1192.0" stroke="#f36d3d" stroke-width="3.6" />
<circle cx="233.14285714285714" cy="1179.5" r="3" fill="#f36d3d"/>
<g stroke="#f36d3d" stroke-width="1.5" opacity="0.9"><line x1="233.14285714285714" y1="1181.5" x2="233.14285714285714" y2="1202.5"/><line x1="226.00285714285712" y1="1184.86" x2="240.28285714285715" y2="1199.14"/><line x1="226.00285714285712" y1="1199.14" x2="240.28285714285715" y2="1184.86"/></g>
<circle cx="233.14285714285714" cy="1205.7" r="3.4" fill="#f8bb0c"/>
<line x1="233.1" y1="1205.7" x2="233.1" y2="1220.0" stroke="#f8bb0c" stroke-width="2" />
<line x1="206.6" y1="1220.6" x2="259.6" y2="1220.6" stroke="#f8bb0c" stroke-width="4.6" />
<g stroke="#f9c530" stroke-width="1.6" opacity="1.0"><line x1="233.14285714285714" y1="1209.6" x2="233.14285714285714" y2="1231.6"/><line x1="225.66285714285715" y1="1213.12" x2="240.62285714285713" y2="1228.08"/><line x1="225.66285714285715" y1="1228.08" x2="240.62285714285713" y2="1213.12"/></g>
<line x1="208.1" y1="1230.4" x2="258.1" y2="1230.4" stroke="#0c4f9b" stroke-width="4.6" />
<g stroke="#2a6fb8" stroke-width="1.6" opacity="1.0"><line x1="233.14285714285714" y1="1219.4" x2="233.14285714285714" y2="1241.4"/><line x1="225.66285714285715" y1="1222.92" x2="240.62285714285713" y2="1237.88"/><line x1="225.66285714285715" y1="1237.88" x2="240.62285714285713" y2="1222.92"/></g>
<line x1="334.3" y1="1189.2" x2="334.3" y2="1186.0" stroke="#f36d3d" stroke-width="3.6" />
<line x1="334.3" y1="1196.5" x2="334.3" y2="1199.5" stroke="#f36d3d" stroke-width="3.6" />
<line x1="322.3" y1="1186.0" x2="346.3" y2="1186.0" stroke="#f36d3d" stroke-width="3.6" />
<line x1="322.3" y1="1199.5" x2="346.3" y2="1199.5" stroke="#f36d3d" stroke-width="3.6" />
<rect x="309.8" y="1191.2" width="49.0" height="3.3" fill="#fde6dd" stroke="#f36d3d" stroke-width="4"/>
<line x1="311.8" y1="1192.8" x2="356.8" y2="1192.8" stroke="#f36d3d" stroke-width="3.6" />
<circle cx="334.2857142857143" cy="1184.0" r="3" fill="#f36d3d"/>
<g stroke="#f36d3d" stroke-width="1.5" opacity="0.9"><line x1="334.2857142857143" y1="1182.3" x2="334.2857142857143" y2="1203.3"/><line x1="327.1457142857143" y1="1185.6599999999999" x2="341.42571428571426" y2="1199.94"/><line x1="327.1457142857143" y1="1199.94" x2="341.42571428571426" y2="1185.6599999999999"/></g>
<line x1="307.8" y1="1220.6" x2="360.8" y2="1220.6" stroke="#f8bb0c" stroke-width="4.6" />
<g stroke="#f9c530" stroke-width="1.6" opacity="1.0"><line x1="334.2857142857143" y1="1209.6" x2="334.2857142857143" y2="1231.6"/><line x1="326.80571428571426" y1="1213.12" x2="341.7657142857143" y2="1228.08"/><line x1="326.80571428571426" y1="1228.08" x2="341.7657142857143" y2="1213.12"/></g>
<line x1="309.3" y1="1230.4" x2="359.3" y2="1230.4" stroke="#0c4f9b" stroke-width="4.6" />
<g stroke="#2a6fb8" stroke-width="1.6" opacity="1.0"><line x1="334.2857142857143" y1="1219.4" x2="334.2857142857143" y2="1241.4"/><line x1="326.80571428571426" y1="1222.92" x2="341.7657142857143" y2="1237.88"/><line x1="326.80571428571426" y1="1237.88" x2="341.7657142857143" y2="1222.92"/></g>
<line x1="435.4" y1="1189.4" x2="435.4" y2="1186.2" stroke="#f36d3d" stroke-width="3.6" />
<line x1="435.4" y1="1196.7" x2="435.4" y2="1199.6" stroke="#f36d3d" stroke-width="3.6" />
<line x1="423.4" y1="1186.2" x2="447.4" y2="1186.2" stroke="#f36d3d" stroke-width="3.6" />
<line x1="423.4" y1="1199.6" x2="447.4" y2="1199.6" stroke="#f36d3d" stroke-width="3.6" />
<rect x="410.9" y="1191.4" width="49.0" height="3.3" fill="#fde6dd" stroke="#f36d3d" stroke-width="4"/>
<line x1="412.9" y1="1193.0" x2="457.9" y2="1193.0" stroke="#f36d3d" stroke-width="3.6" />
<g stroke="#f36d3d" stroke-width="1.5" opacity="0.9"><line x1="435.42857142857144" y1="1182.5" x2="435.42857142857144" y2="1203.5"/><line x1="428.28857142857146" y1="1185.86" x2="442.56857142857143" y2="1200.14"/><line x1="428.28857142857146" y1="1200.14" x2="442.56857142857143" y2="1185.86"/></g>
<line x1="408.9" y1="1220.6" x2="461.9" y2="1220.6" stroke="#f8bb0c" stroke-width="4.6" />
<g stroke="#f9c530" stroke-width="1.6" opacity="1.0"><line x1="435.42857142857144" y1="1209.6" x2="435.42857142857144" y2="1231.6"/><line x1="427.9485714285714" y1="1213.12" x2="442.90857142857146" y2="1228.08"/><line x1="427.9485714285714" y1="1228.08" x2="442.90857142857146" y2="1213.12"/></g>
<line x1="410.4" y1="1230.4" x2="460.4" y2="1230.4" stroke="#0c4f9b" stroke-width="4.6" />
<g stroke="#2a6fb8" stroke-width="1.6" opacity="1.0"><line x1="435.42857142857144" y1="1219.4" x2="435.42857142857144" y2="1241.4"/><line x1="427.9485714285714" y1="1222.92" x2="442.90857142857146" y2="1237.88"/><line x1="427.9485714285714" y1="1237.88" x2="442.90857142857146" y2="1222.92"/></g>
<line x1="536.6" y1="1189.6" x2="536.6" y2="1186.4" stroke="#f36d3d" stroke-width="3.6" />
<line x1="536.6" y1="1196.8" x2="536.6" y2="1199.8" stroke="#f36d3d" stroke-width="3.6" />
<line x1="524.6" y1="1186.4" x2="548.6" y2="1186.4" stroke="#f36d3d" stroke-width="3.6" />
<line x1="524.6" y1="1199.8" x2="548.6" y2="1199.8" stroke="#f36d3d" stroke-width="3.6" />
<rect x="512.1" y="1191.6" width="49.0" height="3.2" fill="#fde6dd" stroke="#f36d3d" stroke-width="4"/>
<line x1="514.1" y1="1193.2" x2="559.1" y2="1193.2" stroke="#f36d3d" stroke-width="3.6" />
<g stroke="#f36d3d" stroke-width="1.5" opacity="0.9"><line x1="536.5714285714286" y1="1182.7" x2="536.5714285714286" y2="1203.7"/><line x1="529.4314285714286" y1="1186.06" x2="543.7114285714285" y2="1200.3400000000001"/><line x1="529.4314285714286" y1="1200.3400000000001" x2="543.7114285714285" y2="1186.06"/></g>
<line x1="510.1" y1="1220.6" x2="563.1" y2="1220.6" stroke="#f8bb0c" stroke-width="4.6" />
<g stroke="#f9c530" stroke-width="1.6" opacity="1.0"><line x1="536.5714285714286" y1="1209.6" x2="536.5714285714286" y2="1231.6"/><line x1="529.0914285714285" y1="1213.12" x2="544.0514285714286" y2="1228.08"/><line x1="529.0914285714285" y1="1228.08" x2="544.0514285714286" y2="1213.12"/></g>
<line x1="511.6" y1="1230.4" x2="561.6" y2="1230.4" stroke="#0c4f9b" stroke-width="4.6" />
<g stroke="#2a6fb8" stroke-width="1.6" opacity="1.0"><line x1="536.5714285714286" y1="1219.4" x2="536.5714285714286" y2="1241.4"/><line x1="529.0914285714285" y1="1222.92" x2="544.0514285714286" y2="1237.88"/><line x1="529.0914285714285" y1="1237.88" x2="544.0514285714286" y2="1222.92"/></g>
<line x1="637.7" y1="1189.8" x2="637.7" y2="1186.6" stroke="#f36d3d" stroke-width="3.6" />
<line x1="637.7" y1="1197.0" x2="637.7" y2="1200.0" stroke="#f36d3d" stroke-width="3.6" />
<line x1="625.7" y1="1186.6" x2="649.7" y2="1186.6" stroke="#f36d3d" stroke-width="3.6" />
<line x1="625.7" y1="1200.0" x2="649.7" y2="1200.0" stroke="#f36d3d" stroke-width="3.6" />
<rect x="613.2" y="1191.8" width="49.0" height="3.2" fill="#fde6dd" stroke="#f36d3d" stroke-width="4"/>
<line x1="615.2" y1="1193.4" x2="660.2" y2="1193.4" stroke="#f36d3d" stroke-width="3.6" />
<g stroke="#f36d3d" stroke-width="1.5" opacity="0.9"><line x1="637.7142857142858" y1="1182.9" x2="637.7142857142858" y2="1203.9"/><line x1="630.5742857142858" y1="1186.26" x2="644.8542857142858" y2="1200.5400000000002"/><line x1="630.5742857142858" y1="1200.5400000000002" x2="644.8542857142858" y2="1186.26"/></g>
<line x1="611.2" y1="1220.6" x2="664.2" y2="1220.6" stroke="#f8bb0c" stroke-width="4.6" />
<g stroke="#f9c530" stroke-width="1.6" opacity="1.0"><line x1="637.7142857142858" y1="1209.6" x2="637.7142857142858" y2="1231.6"/><line x1="630.2342857142858" y1="1213.12" x2="645.1942857142858" y2="1228.08"/><line x1="630.2342857142858" y1="1228.08" x2="645.1942857142858" y2="1213.12"/></g>
<line x1="612.7" y1="1230.4" x2="662.7" y2="1230.4" stroke="#0c4f9b" stroke-width="4.6" />
<g stroke="#2a6fb8" stroke-width="1.6" opacity="1.0"><line x1="637.7142857142858" y1="1219.4" x2="637.7142857142858" y2="1241.4"/><line x1="630.2342857142858" y1="1222.92" x2="645.1942857142858" y2="1237.88"/><line x1="630.2342857142858" y1="1237.88" x2="645.1942857142858" y2="1222.92"/></g>
<line x1="738.9" y1="1190.0" x2="738.9" y2="1186.8" stroke="#f36d3d" stroke-width="3.6" />
<line x1="738.9" y1="1197.2" x2="738.9" y2="1200.2" stroke="#f36d3d" stroke-width="3.6" />
<line x1="726.9" y1="1186.8" x2="750.9" y2="1186.8" stroke="#f36d3d" stroke-width="3.6" />
<line x1="726.9" y1="1200.2" x2="750.9" y2="1200.2" stroke="#f36d3d" stroke-width="3.6" />
<rect x="714.4" y="1192.0" width="49.0" height="3.2" fill="#fde6dd" stroke="#f36d3d" stroke-width="4"/>
<line x1="716.4" y1="1193.6" x2="761.4" y2="1193.6" stroke="#f36d3d" stroke-width="3.6" />
<g stroke="#f36d3d" stroke-width="1.5" opacity="0.9"><line x1="738.8571428571429" y1="1183.1" x2="738.8571428571429" y2="1204.1"/><line x1="731.7171428571429" y1="1186.4599999999998" x2="745.9971428571429" y2="1200.74"/><line x1="731.7171428571429" y1="1200.74" x2="745.9971428571429" y2="1186.4599999999998"/></g>
<line x1="712.4" y1="1220.6" x2="765.4" y2="1220.6" stroke="#f8bb0c" stroke-width="4.6" />
<g stroke="#f9c530" stroke-width="1.6" opacity="1.0"><line x1="738.8571428571429" y1="1209.6" x2="738.8571428571429" y2="1231.6"/><line x1="731.3771428571429" y1="1213.12" x2="746.3371428571429" y2="1228.08"/><line x1="731.3771428571429" y1="1228.08" x2="746.3371428571429" y2="1213.12"/></g>
<line x1="713.9" y1="1230.4" x2="763.9" y2="1230.4" stroke="#0c4f9b" stroke-width="4.6" />
<g stroke="#2a6fb8" stroke-width="1.6" opacity="1.0"><line x1="738.8571428571429" y1="1219.4" x2="738.8571428571429" y2="1241.4"/><line x1="731.3771428571429" y1="1222.92" x2="746.3371428571429" y2="1237.88"/><line x1="731.3771428571429" y1="1237.88" x2="746.3371428571429" y2="1222.92"/></g>
</g>
<line x1="233.1" y1="1239.5" x2="233.1" y2="1231.5" stroke="#1e1e1e" stroke-width="3" />
<line x1="233.1" y1="968.6" x2="233.1" y2="976.6" stroke="#1e1e1e" stroke-width="3" />
<line x1="334.3" y1="1239.5" x2="334.3" y2="1231.5" stroke="#1e1e1e" stroke-width="3" />
<line x1="334.3" y1="968.6" x2="334.3" y2="976.6" stroke="#1e1e1e" stroke-width="3" />
<line x1="435.4" y1="1239.5" x2="435.4" y2="1231.5" stroke="#1e1e1e" stroke-width="3" />
<line x1="435.4" y1="968.6" x2="435.4" y2="976.6" stroke="#1e1e1e" stroke-width="3" />
<line x1="536.6" y1="1239.5" x2="536.6" y2="1231.5" stroke="#1e1e1e" stroke-width="3" />
<line x1="536.6" y1="968.6" x2="536.6" y2="976.6" stroke="#1e1e1e" stroke-width="3" />
<line x1="637.7" y1="1239.5" x2="637.7" y2="1231.5" stroke="#1e1e1e" stroke-width="3" />
<line x1="637.7" y1="968.6" x2="637.7" y2="976.6" stroke="#1e1e1e" stroke-width="3" />
<line x1="738.9" y1="1239.5" x2="738.9" y2="1231.5" stroke="#1e1e1e" stroke-width="3" />
<line x1="738.9" y1="968.6" x2="738.9" y2="976.6" stroke="#1e1e1e" stroke-width="3" />
<line x1="132.0" y1="968.6" x2="140.0" y2="968.6" stroke="#1e1e1e" stroke-width="3" />
<line x1="132.0" y1="1036.3" x2="140.0" y2="1036.3" stroke="#1e1e1e" stroke-width="3" />
<line x1="132.0" y1="1104.1" x2="140.0" y2="1104.1" stroke="#1e1e1e" stroke-width="3" />
<line x1="132.0" y1="1171.8" x2="140.0" y2="1171.8" stroke="#1e1e1e" stroke-width="3" />
<line x1="132.0" y1="1239.5" x2="140.0" y2="1239.5" stroke="#1e1e1e" stroke-width="3" />
<path d="M132,968.6 H840 V1239.5 H132 Z" fill="none" stroke="#1e1e1e" stroke-width="3.3" stroke-linejoin="miter"/>
<text transform="translate(232.3,953.0) scale(1.15,1)" text-anchor="middle" font-family="Liberation Serif" font-size="28" font-weight="normal" fill="#383838" stroke="#fff" stroke-width="0.2">50</text>
<text transform="translate(333.5,953.0) scale(1.15,1)" text-anchor="middle" font-family="Liberation Serif" font-size="28" font-weight="normal" fill="#383838" stroke="#fff" stroke-width="0.2">100</text>
<text transform="translate(434.6,953.0) scale(1.15,1)" text-anchor="middle" font-family="Liberation Serif" font-size="28" font-weight="normal" fill="#383838" stroke="#fff" stroke-width="0.2">200</text>
<text transform="translate(535.8,953.0) scale(1.15,1)" text-anchor="middle" font-family="Liberation Serif" font-size="28" font-weight="normal" fill="#383838" stroke="#fff" stroke-width="0.2">400</text>
<text transform="translate(636.9,953.0) scale(1.15,1)" text-anchor="middle" font-family="Liberation Serif" font-size="28" font-weight="normal" fill="#383838" stroke="#fff" stroke-width="0.2">600</text>
<text transform="translate(738.1,953.0) scale(1.15,1)" text-anchor="middle" font-family="Liberation Serif" font-size="28" font-weight="normal" fill="#383838" stroke="#fff" stroke-width="0.2">800</text>
<text transform="translate(231.1,1273.0) scale(1.15,1)" text-anchor="middle" font-family="Liberation Serif" font-size="28" font-weight="normal" fill="#383838" stroke="#fff" stroke-width="0.2">2</text>
<text transform="translate(332.3,1273.0) scale(1.15,1)" text-anchor="middle" font-family="Liberation Serif" font-size="28" font-weight="normal" fill="#383838" stroke="#fff" stroke-width="0.2">4</text>
<text transform="translate(433.4,1273.0) scale(1.15,1)" text-anchor="middle" font-family="Liberation Serif" font-size="28" font-weight="normal" fill="#383838" stroke="#fff" stroke-width="0.2">8</text>
<text transform="translate(534.6,1273.0) scale(1.15,1)" text-anchor="middle" font-family="Liberation Serif" font-size="28" font-weight="normal" fill="#383838" stroke="#fff" stroke-width="0.2">16</text>
<text transform="translate(635.7,1273.0) scale(1.15,1)" text-anchor="middle" font-family="Liberation Serif" font-size="28" font-weight="normal" fill="#383838" stroke="#fff" stroke-width="0.2">32</text>
<text transform="translate(736.9,1273.0) scale(1.15,1)" text-anchor="middle" font-family="Liberation Serif" font-size="28" font-weight="normal" fill="#383838" stroke="#fff" stroke-width="0.2">64</text>
<text transform="translate(121.0,975.9) scale(1.05,1)" text-anchor="end" font-family="Liberation Serif" font-size="28" font-weight="normal" fill="#383838" stroke="#fff" stroke-width="0.2">0.8</text>
<text transform="translate(121.0,1043.6) scale(1.05,1)" text-anchor="end" font-family="Liberation Serif" font-size="28" font-weight="normal" fill="#383838" stroke="#fff" stroke-width="0.2">0.6</text>
<text transform="translate(121.0,1111.4) scale(1.05,1)" text-anchor="end" font-family="Liberation Serif" font-size="28" font-weight="normal" fill="#383838" stroke="#fff" stroke-width="0.2">0.4</text>
<text transform="translate(121.0,1179.1) scale(1.05,1)" text-anchor="end" font-family="Liberation Serif" font-size="28" font-weight="normal" fill="#383838" stroke="#fff" stroke-width="0.2">0.2</text>
<text transform="translate(121.0,1246.8) scale(1.05,1)" text-anchor="end" font-family="Liberation Serif" font-size="28" font-weight="normal" fill="#383838" stroke="#fff" stroke-width="0.2">0</text>
<text transform="rotate(-90)" x="-334.8" y="64.6" font-family="Liberation Serif" font-size="32" fill="#111">RRMSE</text>
<text transform="rotate(-90)" x="-227.5" y="70.0" font-family="Liberation Serif" font-size="29" font-style="italic" fill="#111">x</text>
<text transform="rotate(-90)" x="-213.0" y="75.0" font-family="Liberation Serif" font-size="22" font-style="italic" fill="#111">S</text>
<text transform="rotate(-90)" x="-197.0" y="64.6" font-family="Liberation Serif" font-size="30.7" fill="#111">(</text>
<text transform="rotate(-90)" x="-186.5" y="64.0" font-family="Liberation Serif" font-size="29" font-style="italic" fill="#111">x</text>
<text transform="rotate(-90)" x="-171.0" y="70.0" font-family="Liberation Serif" font-size="22" font-style="italic" fill="#111">S</text>
<text transform="rotate(-90)" x="-157.5" y="64.6" font-family="Liberation Serif" font-size="30.7" fill="#111">)</text>
<path d="M44.5,181 C40.5,177 41,175 43,172 S46,166 42,161" fill="none" stroke="#111" stroke-width="1.6"/>
<text transform="rotate(-90)" x="-796.4" y="64.0" font-family="Liberation Serif" font-size="32" fill="#111">RRMSE</text>
<text transform="rotate(-90)" x="-689.0" y="69.2" font-family="Liberation Serif" font-size="29" font-style="italic" fill="#111">x</text>
<text transform="rotate(-90)" x="-673.5" y="80.9" font-family="Liberation Serif" font-size="28" font-style="italic" fill="#111">s</text>
<text transform="rotate(-90)" x="-660.0" y="81.5" font-family="Liberation Serif" font-size="29" fill="#111">1</text>
<text transform="rotate(-90)" x="-641.8" y="64.0" font-family="Liberation Serif" font-size="30.7" fill="#111">(</text>
<text transform="rotate(-90)" x="-632.0" y="63.6" font-family="Liberation Serif" font-size="30.7" fill="#111">IMF</text>
<text transform="rotate(-90)" x="-575.0" y="69.7" font-family="Liberation Serif" font-size="22" fill="#111">1</text>
<text transform="rotate(-90)" x="-565.0" y="64.0" font-family="Liberation Serif" font-size="30.7" fill="#111">)</text>
<text transform="rotate(-90)" x="-1230.7" y="64.0" font-family="Liberation Serif" font-size="32" fill="#111">RRMSE</text>
<text transform="rotate(-90)" x="-1124.0" y="69.2" font-family="Liberation Serif" font-size="29" font-style="italic" fill="#111">x</text>
<text transform="rotate(-90)" x="-1108.5" y="81.0" font-family="Liberation Serif" font-size="28" font-style="italic" fill="#111">s</text>
<text transform="rotate(-90)" x="-1095.0" y="81.5" font-family="Liberation Serif" font-size="29" fill="#111">2</text>
<text transform="rotate(-90)" x="-1076.8" y="64.0" font-family="Liberation Serif" font-size="30.7" fill="#111">(</text>
<text transform="rotate(-90)" x="-1065.3" y="63.6" font-family="Liberation Serif" font-size="30.7" fill="#111">IMF</text>
<text transform="rotate(-90)" x="-1010.5" y="69.7" font-family="Liberation Serif" font-size="22" fill="#111">2</text>
<text transform="rotate(-90)" x="-1000.0" y="64.0" font-family="Liberation Serif" font-size="30.7" fill="#111">)</text>
<rect x="98.0" y="1351.5" width="63" height="27.5" fill="#fde3da" stroke="#f36d3d" stroke-width="4.5"/>
<text transform="translate(173.0,1376.5) scale(1.03,1)" text-anchor="start" font-family="Liberation Serif" font-size="30.5" font-weight="normal" fill="#111" >EEMD</text>
<rect x="337.5" y="1351.5" width="63" height="27.5" fill="#e2f4f5" stroke="#54c2c9" stroke-width="4.5"/>
<text transform="translate(412.5,1376.5) scale(1.03,1)" text-anchor="start" font-family="Liberation Serif" font-size="30.5" font-weight="normal" fill="#111" >UPEMD</text>
<rect x="596.5" y="1351.5" width="63" height="27.5" fill="#fff0d3" stroke="#f9c843" stroke-width="4.5"/>
<text transform="translate(671.5,1376.5) scale(1.03,1)" text-anchor="start" font-family="Liberation Serif" font-size="30.5" font-weight="normal" fill="#111" >ICEEMDAN</text>
<rect x="98.0" y="1394.0" width="63" height="27.5" fill="#eff0f1" stroke="#4b5269" stroke-width="4.5"/>
<text transform="translate(173.0,1419.0) scale(1.03,1)" text-anchor="start" font-family="Liberation Serif" font-size="30.5" font-weight="normal" fill="#111" >REMD</text>
<rect x="337.5" y="1394.0" width="63" height="27.5" fill="#c9d8ea" stroke="#0c4f9b" stroke-width="4.5"/>
<text transform="translate(412.5,1419.0) scale(1.03,1)" text-anchor="start" font-family="Liberation Serif" font-size="30.5" font-weight="normal" fill="#111" >IMEMD</text>
</svg></body></html>
